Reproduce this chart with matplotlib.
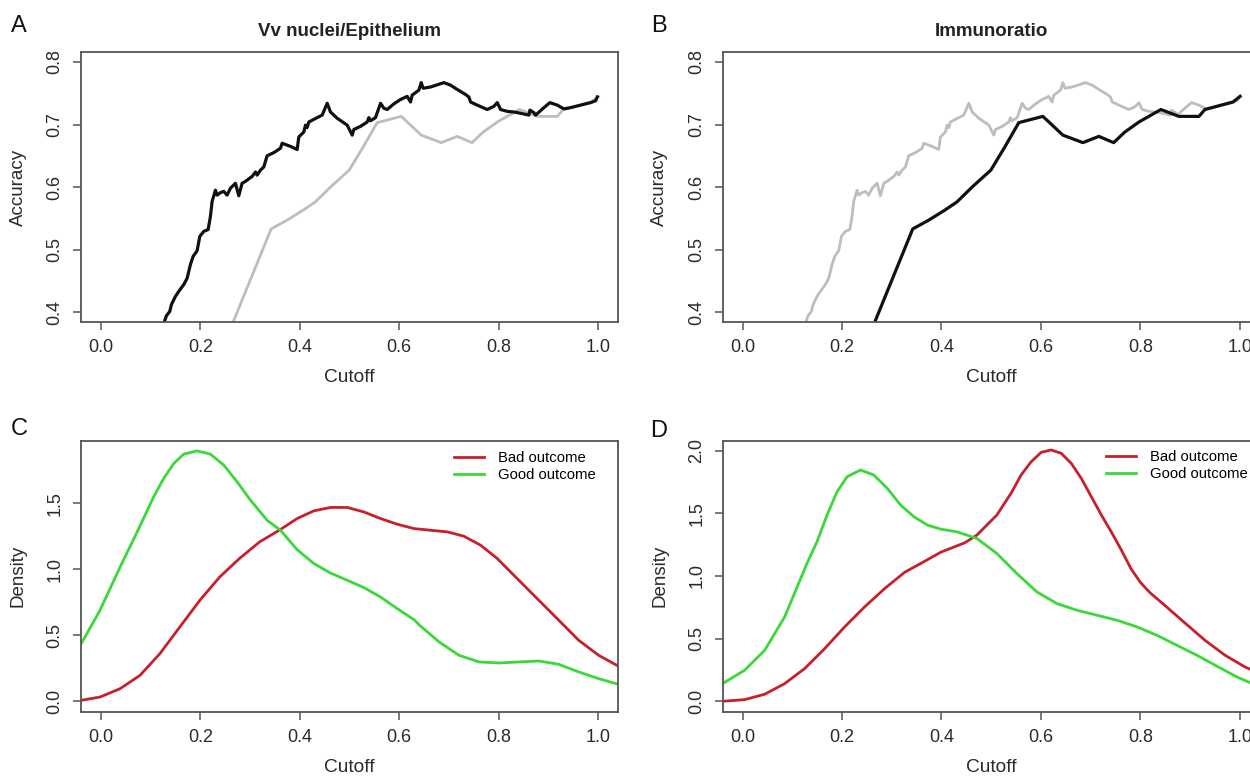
import matplotlib
matplotlib.use("Agg")
import matplotlib.pyplot as plt

plt.rcParams['font.family'] = ['Liberation Sans', 'DejaVu Sans']

# ---- Accuracy vs cutoff: Vv nuclei/Epithelium ----
vv_x = [0.120, 0.1278, 0.1318, 0.1385, 0.1419, 0.1499, 0.1566, 0.1667, 0.1734, 0.1801, 0.1855,
        0.1935, 0.1989, 0.2069, 0.2157, 0.2203, 0.2237, 0.2304, 0.2337, 0.2404, 0.2471,
        0.2538, 0.2605, 0.2706, 0.2773, 0.2840, 0.2907, 0.3042, 0.3109, 0.3142, 0.3209,
        0.3276, 0.3343, 0.3477, 0.3612, 0.3645, 0.3813, 0.3947, 0.3980, 0.4081, 0.4115,
        0.4148, 0.4182, 0.4349, 0.4450, 0.4551, 0.4618, 0.4752, 0.4954, 0.5054, 0.5087,
        0.5221, 0.5356, 0.5389, 0.5423, 0.5523, 0.5624, 0.5691, 0.5758, 0.5892, 0.6026,
        0.6161, 0.6227, 0.6261, 0.6395, 0.6442, 0.6482, 0.6630, 0.6898, 0.7032, 0.7167,
        0.7334, 0.7401, 0.7435, 0.7569, 0.7770, 0.7903, 0.7972, 0.8038, 0.8173, 0.8306,
        0.8441, 0.8608, 0.8628, 0.8708, 0.8742, 0.8910, 0.9030, 0.9179, 0.9312, 0.9447,
        0.9648, 0.9849, 0.9950, 0.9984]
vv_acc = [0.370, 0.385, 0.394, 0.401, 0.412, 0.425, 0.433, 0.444, 0.454, 0.476, 0.489,
          0.498, 0.521, 0.529, 0.532, 0.553, 0.577, 0.595, 0.587, 0.591, 0.593,
          0.587, 0.598, 0.606, 0.586, 0.606, 0.609, 0.617, 0.624, 0.619, 0.627,
          0.632, 0.650, 0.655, 0.662, 0.670, 0.665, 0.660, 0.680, 0.688, 0.699,
          0.695, 0.704, 0.711, 0.715, 0.734, 0.720, 0.710, 0.699, 0.683, 0.692,
          0.697, 0.704, 0.711, 0.706, 0.711, 0.734, 0.726, 0.724, 0.733, 0.740,
          0.745, 0.736, 0.747, 0.755, 0.767, 0.758, 0.760, 0.767, 0.763, 0.756,
          0.748, 0.744, 0.736, 0.731, 0.724, 0.729, 0.735, 0.724, 0.721, 0.720,
          0.718, 0.715, 0.723, 0.719, 0.715, 0.727, 0.735, 0.731, 0.725, 0.727,
          0.731, 0.735, 0.738, 0.744]

# ---- Accuracy vs cutoff: Immunoratio ----
im_x = [0.255, 0.266, 0.3424, 0.3745, 0.4068, 0.4311, 0.4632, 0.4994, 0.5275, 0.5557,
        0.6041, 0.6443, 0.6845, 0.7167, 0.7464, 0.7690, 0.7973, 0.8415, 0.8777,
        0.9180, 0.9300, 0.9863, 1.0008]
im_acc = [0.355, 0.384, 0.533, 0.547, 0.563, 0.576, 0.601, 0.627, 0.664, 0.703,
          0.713, 0.683, 0.671, 0.681, 0.671, 0.688, 0.704, 0.724, 0.713,
          0.713, 0.724, 0.736, 0.745]

# ---- Density, panel C (Vv nuclei/Epithelium) ----
c_good_x = [-0.0395, -0.0017, 0.0426, 0.0660, 0.0861, 0.1062, 0.1264, 0.1465, 0.1666, 0.1935,
            0.2203, 0.2471, 0.2740, 0.3008, 0.3344, 0.3612, 0.3947, 0.4282, 0.4618, 0.4954,
            0.5288, 0.5624, 0.5960, 0.6294, 0.6402, 0.6803, 0.7204, 0.7605, 0.8006, 0.8407,
            0.8808, 0.9209, 0.9610, 1.0012, 1.0412]
c_good = [0.438, 0.691, 1.050, 1.230, 1.390, 1.551, 1.690, 1.803, 1.874, 1.899,
          1.874, 1.791, 1.664, 1.525, 1.373, 1.297, 1.150, 1.045, 0.973, 0.918,
          0.863, 0.791, 0.703, 0.620, 0.580, 0.450, 0.349, 0.299, 0.291, 0.299,
          0.306, 0.281, 0.223, 0.172, 0.129]
c_bad_x = [-0.0395, -0.0017, 0.0385, 0.0786, 0.1187, 0.1588, 0.1990, 0.2392, 0.2793, 0.3193,
           0.3612, 0.3947, 0.4282, 0.4618, 0.4954, 0.5288, 0.5624, 0.5960, 0.6294, 0.6630,
           0.6966, 0.7300, 0.7636, 0.7972, 0.8306, 0.8708, 0.9209, 0.9610, 1.0012, 1.0412]
c_bad = [0.008, 0.033, 0.096, 0.197, 0.362, 0.564, 0.766, 0.944, 1.085, 1.209,
         1.303, 1.386, 1.444, 1.470, 1.470, 1.436, 1.386, 1.343, 1.310, 1.297,
         1.285, 1.252, 1.184, 1.083, 0.956, 0.804, 0.615, 0.463, 0.349, 0.266]

# ---- Density, panel D (Immunoratio) ----
d_good_x = [-0.040, 0.0043, 0.0446, 0.0848, 0.1296, 0.1498, 0.1700, 0.1902, 0.2104, 0.2372,
            0.2641, 0.2911, 0.3180, 0.3448, 0.3719, 0.3988, 0.4309, 0.4712, 0.5114, 0.5516,
            0.5920, 0.6321, 0.6725, 0.7127, 0.7529, 0.7933, 0.8334, 0.8736, 0.9140, 0.9542,
            0.9943, 1.0250, 1.045]
d_good = [0.141, 0.248, 0.407, 0.674, 1.100, 1.273, 1.486, 1.673, 1.792, 1.846,
          1.806, 1.700, 1.566, 1.473, 1.406, 1.374, 1.353, 1.300, 1.180, 1.020,
          0.873, 0.780, 0.727, 0.687, 0.647, 0.594, 0.527, 0.447, 0.367, 0.280,
          0.194, 0.141, 0.110]
d_bad_x = [-0.040, 0.0043, 0.0446, 0.0848, 0.1250, 0.1654, 0.2055, 0.2457, 0.2860, 0.3262,
           0.3584, 0.3988, 0.4469, 0.4712, 0.5114, 0.5400, 0.5603, 0.5805, 0.6007, 0.6208,
           0.6410, 0.6612, 0.6814, 0.7016, 0.7218, 0.7420, 0.7622, 0.7810, 0.8000, 0.8200,
           0.8495, 0.8898, 0.9300, 0.9702, 1.0105, 1.0250, 1.045]
d_bad = [0.000, 0.013, 0.056, 0.141, 0.261, 0.421, 0.594, 0.754, 0.900, 1.030,
         1.100, 1.190, 1.265, 1.326, 1.486, 1.660, 1.806, 1.912, 1.987, 2.006,
         1.979, 1.899, 1.779, 1.632, 1.486, 1.350, 1.205, 1.060, 0.950, 0.865,
         0.765, 0.625, 0.487, 0.368, 0.274, 0.248, 0.215]

x_ticks = [0.0, 0.2, 0.4, 0.6, 0.8, 1.0]
acc_ticks = [0.4, 0.5, 0.6, 0.7, 0.8]
c_ticks = [0.0, 0.5, 1.0, 1.5]
d_ticks = [0.0, 0.5, 1.0, 1.5, 2.0]

BLACK = '#111111'
GRAY = '#bdbdbd'
RED = '#c8202a'
GREEN = '#3ad83a'
FRAME = '#555555'
TEXT = '#2a2a2a'

fig = plt.figure(figsize=(12.5, 7.76), dpi=100)
axA = fig.add_axes([0.0648, 0.585, 0.4296, 0.348])
axB = fig.add_axes([0.5781, 0.585, 0.4296, 0.348])
axC = fig.add_axes([0.0648, 0.0829, 0.4296, 0.3492])
axD = fig.add_axes([0.5781, 0.0829, 0.4296, 0.3492])


def style(ax, yticks, ylim, ylabel):
    ax.set_xlim(-0.04, 1.04)
    ax.set_ylim(*ylim)
    ax.set_xticks(x_ticks)
    ax.set_xticklabels([f"{t:.1f}" for t in x_ticks])
    ax.set_yticks(yticks)
    ax.set_yticklabels([f"{t:.1f}" for t in yticks], rotation=90, va='center')
    for s in ax.spines.values():
        s.set_color(FRAME)
        s.set_linewidth(1.3)
    ax.tick_params(direction='out', length=5.5, width=1.1, color=FRAME,
                   labelsize=13, labelcolor=TEXT, pad=7)
    ax.set_xlabel('Cutoff', fontsize=13.8, color=TEXT)
    ax.xaxis.label.set_va('center')
    ax.xaxis.set_label_coords(0.5, -0.207)
    ax.set_ylabel(ylabel, fontsize=13.5, color=TEXT)
    ax.yaxis.label.set_va('center')
    ax.yaxis.set_label_coords(-0.117, 0.5)


# Panel A
axA.plot(im_x, im_acc, color=GRAY, lw=2.0)
axA.plot(vv_x, vv_acc, color=BLACK, lw=2.3)
style(axA, acc_ticks, (0.384, 0.816), 'Accuracy')
axA.set_title('Vv nuclei/Epithelium', fontsize=13.5, fontweight='bold', y=1.061, pad=0,
              color='#222222')

# Panel B
axB.plot(vv_x, vv_acc, color=GRAY, lw=2.0)
axB.plot(im_x, im_acc, color=BLACK, lw=2.3)
style(axB, acc_ticks, (0.384, 0.816), 'Accuracy')
axB.set_title('Immunoratio', fontsize=13.5, fontweight='bold', y=1.061, pad=0,
              color='#222222')

# Panel C
axC.plot(c_bad_x, c_bad, color=RED, lw=2.0, label='Bad outcome')
axC.plot(c_good_x, c_good, color=GREEN, lw=2.0, label='Good outcome')
style(axC, c_ticks, (-0.078, 1.976), 'Density')
axC.legend(loc='upper left', bbox_to_anchor=(0.6946, 0.962), frameon=False, fontsize=10.7,
           borderpad=0, borderaxespad=0, handlelength=2.0, handletextpad=0.95,
           labelspacing=0.2)

# Panel D
axD.plot(d_bad_x, d_bad, color=RED, lw=2.0, label='Bad outcome')
axD.plot(d_good_x, d_good, color=GREEN, lw=2.0, label='Good outcome')
style(axD, d_ticks, (-0.083, 2.08), 'Density')
axD.legend(loc='upper left', bbox_to_anchor=(0.714, 0.965), frameon=False, fontsize=10.7,
           borderpad=0, borderaxespad=0, handlelength=2.0, handletextpad=0.95,
           labelspacing=0.2)

# Panel letters
for letter, px, py in [('A', 19, 32), ('B', 659, 32), ('C', 19, 435), ('D', 659, 437)]:
    fig.text(px / 1250, 1 - py / 776, letter, fontsize=17, ha='center', va='baseline',
             color='#111111')

fig.savefig('out.png', dpi=100)
